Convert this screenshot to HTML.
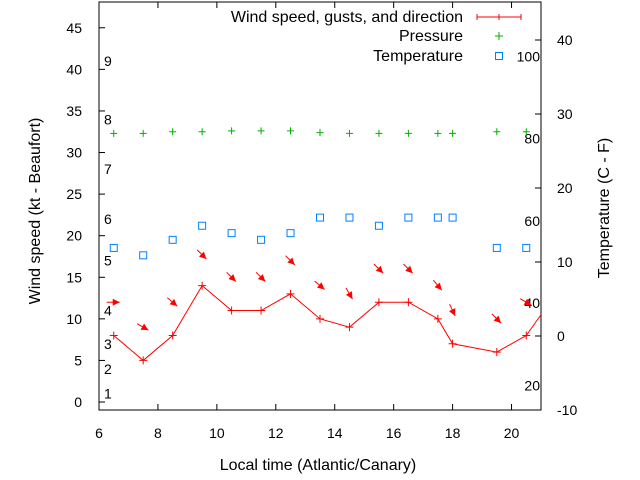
<!DOCTYPE html>
<html><head><meta charset="utf-8"><style>
body{margin:0;background:#fff}
svg{display:block;font-family:"Liberation Sans",sans-serif}
</style></head><body>
<svg id="chart" width="640" height="480" viewBox="0 0 640 480">
<g id="grid"></g>
<g id="marks"></g>
<g id="legend">
 <text x="463" y="22" font-size="16" text-anchor="end">Wind speed, gusts, and direction</text>
 <g stroke="#f00" stroke-width="1"><line x1="477" y1="17" x2="521" y2="17"/><line x1="477" y1="14" x2="477" y2="20"/><line x1="521" y1="14" x2="521" y2="20"/><line x1="499" y1="14" x2="499" y2="20"/></g>
 <text x="463" y="41" font-size="16" text-anchor="end">Pressure</text>
 <g stroke="#00b000"><line x1="495" y1="36" x2="503" y2="36"/><line x1="499" y1="32" x2="499" y2="40"/></g>
 <text x="463" y="61" font-size="16" text-anchor="end">Temperature</text>
 <rect x="495.5" y="52.5" width="7" height="7" fill="none" stroke="#0080ff"/>
</g>
<text transform="translate(40,211) rotate(-90)" font-size="16" text-anchor="middle">Wind speed (kt - Beaufort)</text>
<text transform="translate(609,208) rotate(-90)" font-size="16" text-anchor="middle">Temperature (C - F)</text>
<text x="318" y="470" font-size="16" text-anchor="middle">Local time (Atlantic/Canary)</text>
</svg>
<script>
const hours=[6.5,7.5,8.5,9.5,10.5,11.5,12.5,13.5,14.5,15.5,16.5,17.5,18,19.5,20.5,21.5];
const windKt=[8,5,8,14,11,11,13,10,9,12,12,10,7,6,8,13];
const gustKt=[12,9,12,17.7,15,15,17,14,13,16,16,14,11,10,12];
const windDirDeg=[270,300,310,315,315,315,315,310,330,315,315,320,335,315,300];
const pressure=[32.3,32.3,32.5,32.5,32.6,32.6,32.6,32.4,32.3,32.3,32.3,32.3,32.3,32.5,32.5];
const tempC=[11.9,10.9,13,14.9,13.9,13,13.9,16,16,14.9,16,16,16,11.9,11.9];
const xTicks=[6,8,10,12,14,16,18,20];
const yTicks=[0,5,10,15,20,25,30,35,40,45];
const y2Ticks=[-10,0,10,20,30,40];
const beaufortKt=[1,4,7,11,17,22,28,34,41];
const fahrenheit=[20,40,60,80,100];

const L=99,R=541,T=2,B=410;
const X=h=>L+(h-6)/(21-6)*(R-L);
const Y=v=>B-(v+0.96)/(48.1+0.96)*(B-T);
const Y2=c=>336-c*7.4;
const NS='http://www.w3.org/2000/svg';
function mk(tag,attrs,parent,text){const e=document.createElementNS(NS,tag);for(const k in attrs)e.setAttribute(k,attrs[k]);if(text!==undefined)e.textContent=text;parent.appendChild(e);return e;}
const grid=document.getElementById('grid'),marks=document.getElementById('marks');

let f=mk('rect',{x:L,y:T,width:R-L,height:B-T,fill:'none',stroke:'#000'},grid);


xTicks.forEach(t=>{const x=X(t);
 mk('line',{x1:x,y1:B,x2:x,y2:B-6,stroke:'#000'},grid);
 mk('line',{x1:x,y1:T,x2:x,y2:T+6,stroke:'#000'},grid);
 const tx=mk('text',{x:x,y:B+28,'font-size':14,'text-anchor':'middle'},grid,String(t));
 
 });
yTicks.forEach(t=>{const y=Y(t);
 mk('line',{x1:L,y1:y,x2:L+6,y2:y,stroke:'#000'},grid);
 const tx=mk('text',{x:82,y:y+5,'font-size':14,'text-anchor':'end'},grid,String(t));
 
 });
y2Ticks.forEach(t=>{const y=Y2(t);
 mk('line',{x1:R,y1:y,x2:R-6,y2:y,stroke:'#000'},grid);
 const tx=mk('text',{x:557,y:y+5,'font-size':14},grid,String(t));
 
 });
beaufortKt.forEach((k,i)=>{const tx=mk('text',{x:104,y:Y(k)+5,'font-size':14},grid,String(i+1));
 
 });
fahrenheit.forEach(F=>{const tx=mk('text',{x:540,y:Y2((F-32)*5/9)+5,'font-size':14,'text-anchor':'end'},grid,String(F));
 
 });

const cp=mk('clipPath',{id:'clip'},marks);mk('rect',{x:L,y:T,width:R-L,height:B-T},cp);
const g=mk('g',{'clip-path':'url(#clip)'},marks);
const line=mk('polyline',{points:hours.map((h,i)=>X(h)+','+Y(windKt[i])).join(' '),fill:'none',stroke:'#f00'},g);


hours.forEach((h,i)=>{const x=X(h),y=Y(windKt[i]);
 const p=mk('path',{d:`M${x-4},${y}H${x+4}M${x},${y-4}V${y+4}`,stroke:'#f00'},g);
 
 });
gustKt.forEach((v,i)=>{const x=X(hours[i]),y=Y(v);const a=(windDirDeg[i]+180)*Math.PI/180;
 const dx=Math.sin(a),dy=-Math.cos(a);const x1=x-dx*7,y1=y-dy*7,x2=x+dx*6,y2=y+dy*6;
 const px=-dy,py=dx;
 const ar=mk('g',{},g);
 
 
 mk('line',{x1:x1,y1:y1,x2:x2,y2:y2,stroke:'#f00'},ar);
 mk('polygon',{points:`${x2},${y2} ${x2-dx*7+px*3.5},${y2-dy*7+py*3.5} ${x2-dx*7-px*3.5},${y2-dy*7-py*3.5}`,fill:'#f00'},ar);});
pressure.forEach((v,i)=>{const x=X(hours[i]),y=Y(v);
 const p=mk('path',{d:`M${x-3.5},${y}H${x+3.5}M${x},${y-3.5}V${y+3.5}`,stroke:'#00b000'},g);
 
 });
tempC.forEach((v,i)=>{const x=X(hours[i]),y=Y2(v);
 const r=mk('rect',{x:x-3.5,y:y-3.5,width:7,height:7,fill:'none',stroke:'#0080ff'},g);
 
 });
</script>
</body></html>
